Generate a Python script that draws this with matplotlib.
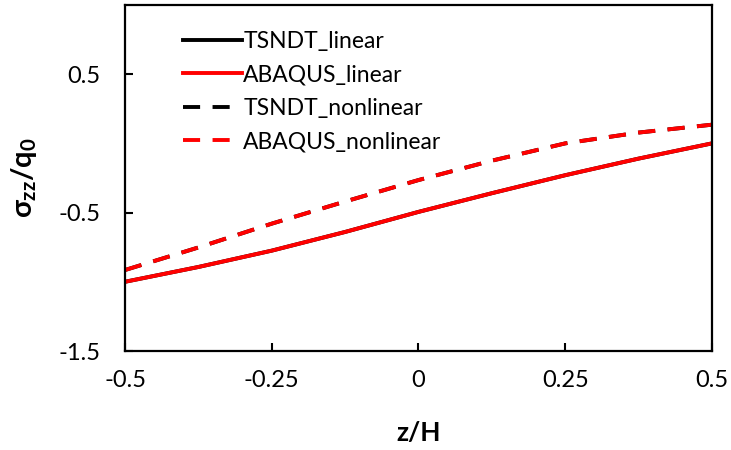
import matplotlib
matplotlib.use("Agg")
import matplotlib.pyplot as plt

# z/H positions and normalised stress values
z = [-0.5, -0.375, -0.25, -0.125, 0.0, 0.125, 0.25, 0.375, 0.5]
tsndt_linear = [-1.00, -0.893, -0.775, -0.64, -0.495, -0.36, -0.23, -0.11, 0.0]
abaqus_linear = [-1.00, -0.893, -0.775, -0.64, -0.495, -0.36, -0.23, -0.11, 0.0]
tsndt_nonlinear = [-0.915, -0.752, -0.58, -0.42, -0.265, -0.125, 0.0, 0.078, 0.135]
abaqus_nonlinear = [-0.915, -0.752, -0.58, -0.42, -0.265, -0.125, 0.0, 0.078, 0.135]

xticks = [-0.5, -0.25, 0, 0.25, 0.5]
xticklabels = ["-0.5", "-0.25", "0", "0.25", "0.5"]
yticks = [-1.5, -0.5, 0.5]
yticklabels = ["-1.5", "-0.5", "0.5"]

plt.rcParams["font.family"] = ["Lato", "DejaVu Sans"]
plt.rcParams["mathtext.fontset"] = "custom"
plt.rcParams["mathtext.bf"] = "Lato:bold"
plt.rcParams["mathtext.rm"] = "Lato:bold"
plt.rcParams["mathtext.it"] = "Lato:bold"

fig = plt.figure(figsize=(7.31, 4.5), dpi=100)
ax = fig.add_axes([0.171, 0.22, 0.803, 0.769])

lw = 2.8
dash = (4.4, 3.2)
ax.plot(z, tsndt_linear, color="black", lw=lw, label="TSNDT_linear")
ax.plot(z, abaqus_linear, color="#ff0000", lw=lw, label="ABAQUS_linear")
ax.plot(z, tsndt_nonlinear, color="black", lw=lw, dashes=dash, label="TSNDT_nonlinear")
ax.plot(z, abaqus_nonlinear, color="#ff0000", lw=lw, dashes=dash, label="ABAQUS_nonlinear")

ax.set_xlim(-0.5, 0.5)
ax.set_ylim(-1.5, 1.0)
ax.set_xticks(xticks)
ax.set_xticklabels(xticklabels)
ax.set_yticks(yticks)
ax.set_yticklabels(yticklabels)
ax.tick_params(direction="in", length=6, width=1.5, labelsize=17, colors="black")
ax.tick_params(axis="x", pad=14)
ax.tick_params(axis="y", pad=18)
for s in ax.spines.values():
    s.set_linewidth(1.6)
    s.set_color("black")

ax.set_xlabel("z/H", fontsize=19, fontweight="bold", labelpad=21)
ax.set_ylabel(r"$\sigma_{zz}/q_0$", fontsize=21, labelpad=14)

ax.legend(loc="upper left", frameon=False, fontsize=16.5, handlelength=2.58,
          handletextpad=0.05, labelspacing=0.54, borderaxespad=0.3,
          bbox_to_anchor=(0.0715, 0.971))

fig.savefig("out.png", dpi=100)
